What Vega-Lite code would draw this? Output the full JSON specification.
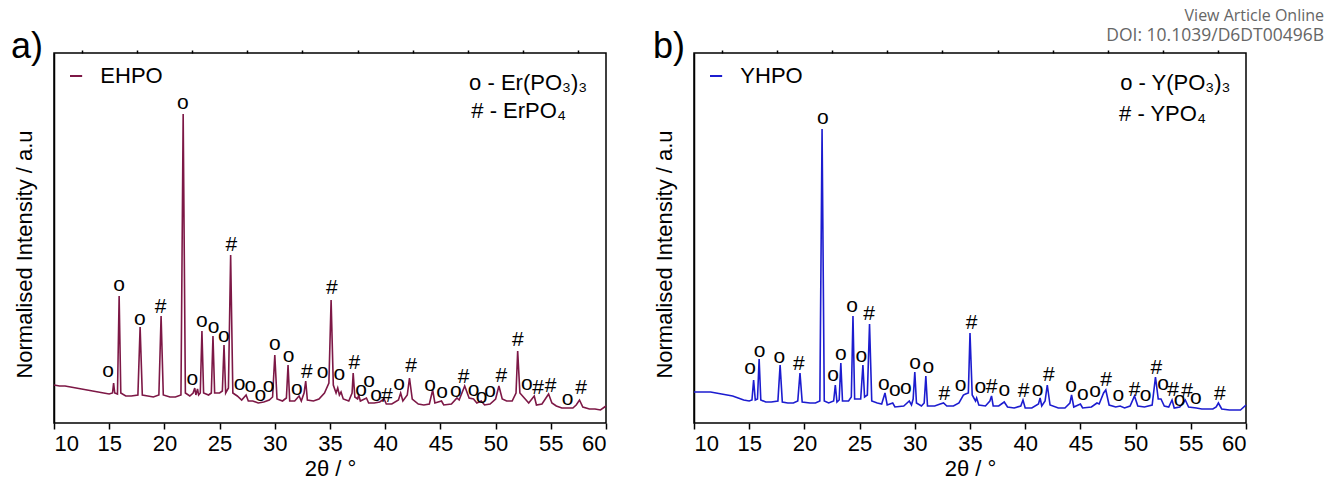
{
"$schema": "https://vega.github.io/schema/vega-lite/v6.json",
"padding": {"left": 10, "top": 7, "right": 0, "bottom": 0},
"bounds": "flush",
"spacing": 88,
"config": {
  "font": "Liberation Sans",
  "view": {"stroke": "black", "strokeWidth": 1.5},
  "axis": {"domain": false, "grid": false, "tickColor": "black", "tickWidth": 1.5, "labelColor": "black", "titleColor": "black", "labelFont": "Liberation Sans", "titleFont": "Liberation Sans", "titleFontWeight": "normal", "labelFontSize": 22, "titleFontSize": 22},
  "text": {"font": "Liberation Sans", "color": "black"}
},
"datasets": {
  "a_line": [
    {"two_theta":10.0,"intensity":38},{"two_theta":10.5,"intensity":37},{"two_theta":11.0,"intensity":37},{"two_theta":11.5,"intensity":36},{"two_theta":12.0,"intensity":35},{"two_theta":12.5,"intensity":34},{"two_theta":13.0,"intensity":33},{"two_theta":13.5,"intensity":32},{"two_theta":14.0,"intensity":31},{"two_theta":14.5,"intensity":30},{"two_theta":15.0,"intensity":29},{"two_theta":15.3,"intensity":30},{"two_theta":15.4,"intensity":40},{"two_theta":15.5,"intensity":30},{"two_theta":15.75,"intensity":29},{"two_theta":15.9,"intensity":127},{"two_theta":16.05,"intensity":30},{"two_theta":16.5,"intensity":27},{"two_theta":17.0,"intensity":27},{"two_theta":17.6,"intensity":28},{"two_theta":17.8,"intensity":96},{"two_theta":18.0,"intensity":28},{"two_theta":18.5,"intensity":27},{"two_theta":19.0,"intensity":26},{"two_theta":19.5,"intensity":28},{"two_theta":19.7,"intensity":107},{"two_theta":19.9,"intensity":28},{"two_theta":20.5,"intensity":26},{"two_theta":21.0,"intensity":26},{"two_theta":21.5,"intensity":28},{"two_theta":21.7,"intensity":309},{"two_theta":21.9,"intensity":30},{"two_theta":22.3,"intensity":27},{"two_theta":22.6,"intensity":30},{"two_theta":22.75,"intensity":35},{"two_theta":22.85,"intensity":28},{"two_theta":23.0,"intensity":34},{"two_theta":23.1,"intensity":28},{"two_theta":23.25,"intensity":30},{"two_theta":23.4,"intensity":92},{"two_theta":23.55,"intensity":30},{"two_theta":24.0,"intensity":28},{"two_theta":24.25,"intensity":30},{"two_theta":24.4,"intensity":87},{"two_theta":24.55,"intensity":30},{"two_theta":25.0,"intensity":30},{"two_theta":25.25,"intensity":32},{"two_theta":25.4,"intensity":78},{"two_theta":25.55,"intensity":30},{"two_theta":25.8,"intensity":35},{"two_theta":26.0,"intensity":168},{"two_theta":26.2,"intensity":30},{"two_theta":26.6,"intensity":27},{"two_theta":27.0,"intensity":23},{"two_theta":27.4,"intensity":28},{"two_theta":27.6,"intensity":22},{"two_theta":28.0,"intensity":22},{"two_theta":28.5,"intensity":20},{"two_theta":29.0,"intensity":21},{"two_theta":29.5,"intensity":23},{"two_theta":29.8,"intensity":26},{"two_theta":30.0,"intensity":68},{"two_theta":30.2,"intensity":24},{"two_theta":30.7,"intensity":22},{"two_theta":31.05,"intensity":25},{"two_theta":31.2,"intensity":58},{"two_theta":31.35,"intensity":22},{"two_theta":31.8,"intensity":22},{"two_theta":32.2,"intensity":27},{"two_theta":32.4,"intensity":22},{"two_theta":32.65,"intensity":30},{"two_theta":32.8,"intensity":42},{"two_theta":32.95,"intensity":23},{"two_theta":33.5,"intensity":22},{"two_theta":34.0,"intensity":24},{"two_theta":34.5,"intensity":30},{"two_theta":34.9,"intensity":40},{"two_theta":35.1,"intensity":123},{"two_theta":35.3,"intensity":38},{"two_theta":35.55,"intensity":30},{"two_theta":35.7,"intensity":35},{"two_theta":35.85,"intensity":28},{"two_theta":36.0,"intensity":31},{"two_theta":36.2,"intensity":24},{"two_theta":36.7,"intensity":22},{"two_theta":37.0,"intensity":30},{"two_theta":37.1,"intensity":50},{"two_theta":37.25,"intensity":26},{"two_theta":37.5,"intensity":24},{"two_theta":37.6,"intensity":28},{"two_theta":37.75,"intensity":22},{"two_theta":38.3,"intensity":25},{"two_theta":38.5,"intensity":20},{"two_theta":39.0,"intensity":20},{"two_theta":39.5,"intensity":21},{"two_theta":39.9,"intensity":24},{"two_theta":40.1,"intensity":19},{"two_theta":40.6,"intensity":19},{"two_theta":41.2,"intensity":23},{"two_theta":41.4,"intensity":30},{"two_theta":41.6,"intensity":22},{"two_theta":42.0,"intensity":28},{"two_theta":42.2,"intensity":45},{"two_theta":42.45,"intensity":24},{"two_theta":43.0,"intensity":19},{"two_theta":43.5,"intensity":18},{"two_theta":44.0,"intensity":19},{"two_theta":44.3,"intensity":33},{"two_theta":44.5,"intensity":20},{"two_theta":45.1,"intensity":22},{"two_theta":45.3,"intensity":18},{"two_theta":46.0,"intensity":19},{"two_theta":46.5,"intensity":25},{"two_theta":46.7,"intensity":23},{"two_theta":47.2,"intensity":37},{"two_theta":47.6,"intensity":25},{"two_theta":48.0,"intensity":24},{"two_theta":48.3,"intensity":20},{"two_theta":48.7,"intensity":22},{"two_theta":49.0,"intensity":18},{"two_theta":49.5,"intensity":19},{"two_theta":50.0,"intensity":24},{"two_theta":50.3,"intensity":37},{"two_theta":50.6,"intensity":24},{"two_theta":51.0,"intensity":22},{"two_theta":51.5,"intensity":22},{"two_theta":51.85,"intensity":30},{"two_theta":52.0,"intensity":72},{"two_theta":52.2,"intensity":30},{"two_theta":52.6,"intensity":25},{"two_theta":53.0,"intensity":20},{"two_theta":53.5,"intensity":27},{"two_theta":53.7,"intensity":18},{"two_theta":54.2,"intensity":19},{"two_theta":54.8,"intensity":29},{"two_theta":55.1,"intensity":20},{"two_theta":55.5,"intensity":17},{"two_theta":56.0,"intensity":15},{"two_theta":56.5,"intensity":15},{"two_theta":57.0,"intensity":15},{"two_theta":57.3,"intensity":18},{"two_theta":57.6,"intensity":23},{"two_theta":57.9,"intensity":16},{"two_theta":58.5,"intensity":14},{"two_theta":59.0,"intensity":14},{"two_theta":59.5,"intensity":13},{"two_theta":60.0,"intensity":17}
  ],
  "b_line": [
    {"two_theta":10.0,"intensity":31},{"two_theta":10.5,"intensity":31},{"two_theta":11.0,"intensity":31},{"two_theta":11.5,"intensity":31},{"two_theta":12.0,"intensity":30},{"two_theta":12.5,"intensity":29},{"two_theta":13.0,"intensity":28},{"two_theta":13.5,"intensity":27},{"two_theta":14.0,"intensity":25},{"two_theta":14.5,"intensity":23},{"two_theta":15.0,"intensity":22},{"two_theta":15.25,"intensity":23},{"two_theta":15.4,"intensity":43},{"two_theta":15.55,"intensity":23},{"two_theta":15.75,"intensity":24},{"two_theta":15.9,"intensity":64},{"two_theta":16.05,"intensity":23},{"two_theta":16.5,"intensity":21},{"two_theta":17.0,"intensity":21},{"two_theta":17.6,"intensity":22},{"two_theta":17.8,"intensity":58},{"two_theta":18.0,"intensity":21},{"two_theta":18.5,"intensity":20},{"two_theta":19.0,"intensity":20},{"two_theta":19.4,"intensity":22},{"two_theta":19.6,"intensity":50},{"two_theta":19.8,"intensity":21},{"two_theta":20.5,"intensity":20},{"two_theta":21.0,"intensity":20},{"two_theta":21.4,"intensity":22},{"two_theta":21.6,"intensity":294},{"two_theta":21.8,"intensity":22},{"two_theta":22.2,"intensity":20},{"two_theta":22.65,"intensity":22},{"two_theta":22.8,"intensity":38},{"two_theta":22.95,"intensity":21},{"two_theta":23.15,"intensity":23},{"two_theta":23.3,"intensity":60},{"two_theta":23.45,"intensity":22},{"two_theta":24.0,"intensity":22},{"two_theta":24.25,"intensity":26},{"two_theta":24.4,"intensity":107},{"two_theta":24.55,"intensity":24},{"two_theta":25.1,"intensity":24},{"two_theta":25.3,"intensity":58},{"two_theta":25.45,"intensity":26},{"two_theta":25.7,"intensity":28},{"two_theta":25.9,"intensity":99},{"two_theta":26.1,"intensity":22},{"two_theta":26.6,"intensity":20},{"two_theta":27.0,"intensity":19},{"two_theta":27.3,"intensity":30},{"two_theta":27.5,"intensity":18},{"two_theta":28.0,"intensity":20},{"two_theta":28.2,"intensity":16},{"two_theta":29.0,"intensity":17},{"two_theta":29.5,"intensity":22},{"two_theta":29.7,"intensity":18},{"two_theta":29.85,"intensity":24},{"two_theta":30.0,"intensity":51},{"two_theta":30.15,"intensity":20},{"two_theta":30.6,"intensity":17},{"two_theta":30.85,"intensity":20},{"two_theta":31.0,"intensity":47},{"two_theta":31.15,"intensity":17},{"two_theta":31.8,"intensity":17},{"two_theta":32.3,"intensity":19},{"two_theta":32.6,"intensity":20},{"two_theta":32.9,"intensity":17},{"two_theta":33.5,"intensity":17},{"two_theta":34.0,"intensity":20},{"two_theta":34.4,"intensity":28},{"two_theta":34.6,"intensity":29},{"two_theta":34.85,"intensity":30},{"two_theta":35.0,"intensity":90},{"two_theta":35.2,"intensity":28},{"two_theta":35.5,"intensity":22},{"two_theta":35.6,"intensity":25},{"two_theta":35.8,"intensity":18},{"two_theta":36.4,"intensity":17},{"two_theta":36.8,"intensity":22},{"two_theta":36.95,"intensity":27},{"two_theta":37.1,"intensity":17},{"two_theta":37.6,"intensity":17},{"two_theta":38.1,"intensity":21},{"two_theta":38.4,"intensity":16},{"two_theta":39.0,"intensity":15},{"two_theta":39.6,"intensity":17},{"two_theta":39.8,"intensity":23},{"two_theta":40.0,"intensity":15},{"two_theta":40.6,"intensity":15},{"two_theta":41.2,"intensity":19},{"two_theta":41.35,"intensity":25},{"two_theta":41.5,"intensity":17},{"two_theta":41.8,"intensity":22},{"two_theta":42.0,"intensity":38},{"two_theta":42.25,"intensity":18},{"two_theta":43.0,"intensity":15},{"two_theta":43.6,"intensity":15},{"two_theta":44.05,"intensity":20},{"two_theta":44.2,"intensity":28},{"two_theta":44.4,"intensity":16},{"two_theta":45.0,"intensity":19},{"two_theta":45.2,"intensity":15},{"two_theta":46.0,"intensity":16},{"two_theta":46.5,"intensity":20},{"two_theta":46.7,"intensity":19},{"two_theta":47.1,"intensity":30},{"two_theta":47.3,"intensity":33},{"two_theta":47.6,"intensity":18},{"two_theta":48.2,"intensity":16},{"two_theta":48.6,"intensity":17},{"two_theta":49.0,"intensity":15},{"two_theta":49.5,"intensity":17},{"two_theta":49.9,"intensity":27},{"two_theta":50.2,"intensity":17},{"two_theta":50.8,"intensity":16},{"two_theta":51.5,"intensity":18},{"two_theta":51.8,"intensity":46},{"two_theta":52.05,"intensity":24},{"two_theta":52.3,"intensity":24},{"two_theta":52.6,"intensity":17},{"two_theta":53.0,"intensity":16},{"two_theta":53.3,"intensity":23},{"two_theta":53.5,"intensity":15},{"two_theta":54.0,"intensity":16},{"two_theta":54.5,"intensity":23},{"two_theta":54.8,"intensity":16},{"two_theta":55.5,"intensity":15},{"two_theta":56.0,"intensity":14},{"two_theta":56.5,"intensity":14},{"two_theta":57.0,"intensity":14},{"two_theta":57.3,"intensity":16},{"two_theta":57.5,"intensity":20},{"two_theta":57.8,"intensity":14},{"two_theta":58.5,"intensity":13},{"two_theta":59.0,"intensity":13},{"two_theta":59.5,"intensity":13},{"two_theta":60.0,"intensity":18}
  ],
  "a_marks": [
    {"two_theta":14.9,"intensity":52,"label":"o"},{"two_theta":15.9,"intensity":138,"label":"o"},{"two_theta":17.77,"intensity":104,"label":"o"},{"two_theta":19.66,"intensity":116,"label":"#"},{"two_theta":21.68,"intensity":320,"label":"o"},{"two_theta":22.53,"intensity":44,"label":"o"},{"two_theta":23.39,"intensity":102,"label":"o"},{"two_theta":24.46,"intensity":96,"label":"o"},{"two_theta":25.39,"intensity":87,"label":"o"},{"two_theta":26.07,"intensity":178,"label":"#"},{"two_theta":26.82,"intensity":39,"label":"o"},{"two_theta":27.79,"intensity":37,"label":"o"},{"two_theta":28.68,"intensity":28,"label":"o"},{"two_theta":29.43,"intensity":37,"label":"o"},{"two_theta":30.0,"intensity":79,"label":"o"},{"two_theta":31.26,"intensity":67,"label":"o"},{"two_theta":32.0,"intensity":34,"label":"o"},{"two_theta":32.9,"intensity":51,"label":"#"},{"two_theta":34.34,"intensity":51,"label":"o"},{"two_theta":35.16,"intensity":135,"label":"#"},{"two_theta":35.84,"intensity":49,"label":"o"},{"two_theta":37.2,"intensity":60,"label":"#"},{"two_theta":37.81,"intensity":33,"label":"o"},{"two_theta":38.53,"intensity":42,"label":"o"},{"two_theta":39.17,"intensity":28,"label":"o"},{"two_theta":40.14,"intensity":27,"label":"#"},{"two_theta":41.25,"intensity":39,"label":"o"},{"two_theta":42.35,"intensity":57,"label":"#"},{"two_theta":44.07,"intensity":38,"label":"o"},{"two_theta":45.15,"intensity":31,"label":"o"},{"two_theta":46.4,"intensity":32,"label":"o"},{"two_theta":47.1,"intensity":46,"label":"#"},{"two_theta":48.0,"intensity":33,"label":"o"},{"two_theta":48.73,"intensity":26,"label":"o"},{"two_theta":49.5,"intensity":32,"label":"o"},{"two_theta":50.52,"intensity":47,"label":"#"},{"two_theta":52.02,"intensity":83,"label":"#"},{"two_theta":52.84,"intensity":39,"label":"o"},{"two_theta":53.84,"intensity":35,"label":"#"},{"two_theta":54.99,"intensity":37,"label":"#"},{"two_theta":56.53,"intensity":24,"label":"o"},{"two_theta":57.74,"intensity":35,"label":"#"}
  ],
  "b_marks": [
    {"two_theta":15.07,"intensity":55,"label":"o"},{"two_theta":15.94,"intensity":72,"label":"o"},{"two_theta":17.72,"intensity":66,"label":"o"},{"two_theta":19.5,"intensity":59,"label":"#"},{"two_theta":21.68,"intensity":305,"label":"o"},{"two_theta":22.59,"intensity":48,"label":"o"},{"two_theta":23.3,"intensity":69,"label":"o"},{"two_theta":24.33,"intensity":117,"label":"o"},{"two_theta":25.16,"intensity":67,"label":"o"},{"two_theta":25.87,"intensity":109,"label":"#"},{"two_theta":27.2,"intensity":39,"label":"o"},{"two_theta":28.2,"intensity":33,"label":"o"},{"two_theta":29.2,"intensity":35,"label":"o"},{"two_theta":30.03,"intensity":60,"label":"o"},{"two_theta":31.22,"intensity":56,"label":"o"},{"two_theta":32.68,"intensity":29,"label":"#"},{"two_theta":34.15,"intensity":38,"label":"o"},{"two_theta":35.14,"intensity":100,"label":"#"},{"two_theta":35.93,"intensity":36,"label":"o"},{"two_theta":36.96,"intensity":36,"label":"#"},{"two_theta":38.1,"intensity":33,"label":"o"},{"two_theta":39.85,"intensity":32,"label":"#"},{"two_theta":41.12,"intensity":33,"label":"o"},{"two_theta":42.15,"intensity":48,"label":"#"},{"two_theta":44.16,"intensity":37,"label":"o"},{"two_theta":45.23,"intensity":29,"label":"o"},{"two_theta":46.34,"intensity":32,"label":"o"},{"two_theta":47.33,"intensity":43,"label":"#"},{"two_theta":48.44,"intensity":28,"label":"o"},{"two_theta":49.9,"intensity":33,"label":"#"},{"two_theta":50.9,"intensity":28,"label":"o"},{"two_theta":51.88,"intensity":55,"label":"#"},{"two_theta":52.48,"intensity":39,"label":"o"},{"two_theta":53.39,"intensity":33,"label":"#"},{"two_theta":53.98,"intensity":23,"label":"o"},{"two_theta":54.66,"intensity":32,"label":"#"},{"two_theta":55.45,"intensity":25,"label":"o"},{"two_theta":57.62,"intensity":29,"label":"#"}
  ]
},
"hconcat": [
  {
    "width": 552, "height": 370,
    "resolve": {"axis": {"x": "independent"}},
    "layer": [
      {
        "data": {"name": "a_line"},
        "mark": {"type": "line", "color": "#7d1846", "strokeWidth": 1.6},
        "encoding": {
          "x": {"field": "two_theta", "type": "quantitative", "scale": {"domain": [10, 60], "nice": false, "zero": false},
                "axis": {"values": [10,15,20,25,30,35,40,45,50,55,60], "title": "2θ / °", "tickSize": 6, "labelPadding": 4, "titlePadding": 4}},
          "y": {"field": "intensity", "type": "quantitative", "scale": {"domain": [0, 370], "nice": false, "zero": false},
                "axis": {"title": "Normalised Intensity / a.u", "labels": false, "ticks": false, "domain": true, "domainColor": "black", "domainWidth": 1.5, "titlePadding": 18, "titleY": 201}}
        }
      },
      {
        "data": {"name": "a_marks"},
        "mark": {"type": "text", "fontSize": 21, "baseline": "middle", "align": "center", "clip": false},
        "encoding": {
          "x": {"field": "two_theta", "type": "quantitative", "axis": {"values": [12.5,17.5,22.5,27.5,32.5,37.5,42.5,47.5,52.5,57.5], "labels": false, "title": null, "tickSize": 3}},
          "y": {"field": "intensity", "type": "quantitative"},
          "text": {"field": "label"}
        }
      },
      {
        "data": {"values": [{"x_start": 11.45, "x_end": 12.55, "intensity": 347}]},
        "mark": {"type": "rule", "color": "#7d1846", "strokeWidth": 2},
        "encoding": {
          "x": {"field": "x_start", "type": "quantitative", "axis": null},
          "x2": {"field": "x_end"},
          "y": {"field": "intensity", "type": "quantitative"}
        }
      },
      {
        "data": {"values": [
          {"two_theta": 14.2, "intensity": 347, "label": "EHPO"},
          {"two_theta": 47.6, "intensity": 340, "label": "o - Er(PO₃)₃"},
          {"two_theta": 47.8, "intensity": 312, "label": "# - ErPO₄"}
        ]},
        "mark": {"type": "text", "fontSize": 22, "align": "left", "baseline": "middle", "clip": false},
        "encoding": {
          "x": {"field": "two_theta", "type": "quantitative", "axis": null},
          "y": {"field": "intensity", "type": "quantitative"},
          "text": {"field": "label"}
        }
      },
      {
        "data": {"values": [{"two_theta": 6.1, "intensity": 365, "label": "a)"}]},
        "mark": {"type": "text", "fontSize": 36, "align": "left", "baseline": "alphabetic", "clip": false},
        "encoding": {
          "x": {"field": "two_theta", "type": "quantitative", "axis": null},
          "y": {"field": "intensity", "type": "quantitative"},
          "text": {"field": "label"}
        }
      }
    ]
  },
  {
    "width": 552, "height": 370,
    "resolve": {"axis": {"x": "independent"}},
    "layer": [
      {
        "data": {"name": "b_line"},
        "mark": {"type": "line", "color": "#1c1ccf", "strokeWidth": 1.6},
        "encoding": {
          "x": {"field": "two_theta", "type": "quantitative", "scale": {"domain": [10, 60], "nice": false, "zero": false},
                "axis": {"values": [10,15,20,25,30,35,40,45,50,55,60], "title": "2θ / °", "tickSize": 6, "labelPadding": 4, "titlePadding": 4}},
          "y": {"field": "intensity", "type": "quantitative", "scale": {"domain": [0, 370], "nice": false, "zero": false},
                "axis": {"title": "Normalised Intensity / a.u", "labels": false, "ticks": false, "domain": true, "domainColor": "black", "domainWidth": 1.5, "titlePadding": 18, "titleY": 201}}
        }
      },
      {
        "data": {"name": "b_marks"},
        "mark": {"type": "text", "fontSize": 21, "baseline": "middle", "align": "center", "clip": false},
        "encoding": {
          "x": {"field": "two_theta", "type": "quantitative", "axis": {"values": [12.5,17.5,22.5,27.5,32.5,37.5,42.5,47.5,52.5,57.5], "labels": false, "title": null, "tickSize": 3}},
          "y": {"field": "intensity", "type": "quantitative"},
          "text": {"field": "label"}
        }
      },
      {
        "data": {"values": [{"x_start": 11.45, "x_end": 12.55, "intensity": 347}]},
        "mark": {"type": "rule", "color": "#1c1ccf", "strokeWidth": 2},
        "encoding": {
          "x": {"field": "x_start", "type": "quantitative", "axis": null},
          "x2": {"field": "x_end"},
          "y": {"field": "intensity", "type": "quantitative"}
        }
      },
      {
        "data": {"values": [
          {"two_theta": 14.2, "intensity": 347, "label": "YHPO"},
          {"two_theta": 48.6, "intensity": 340, "label": "o - Y(PO₃)₃"},
          {"two_theta": 48.5, "intensity": 309, "label": "# - YPO₄"}
        ]},
        "mark": {"type": "text", "fontSize": 22, "align": "left", "baseline": "middle", "clip": false},
        "encoding": {
          "x": {"field": "two_theta", "type": "quantitative", "axis": null},
          "y": {"field": "intensity", "type": "quantitative"},
          "text": {"field": "label"}
        }
      },
      {
        "data": {"values": [{"two_theta": 6.29, "intensity": 365, "label": "b)"}]},
        "mark": {"type": "text", "fontSize": 36, "align": "left", "baseline": "alphabetic", "clip": false},
        "encoding": {
          "x": {"field": "two_theta", "type": "quantitative", "axis": null},
          "y": {"field": "intensity", "type": "quantitative"},
          "text": {"field": "label"}
        }
      },
      {
        "data": {"values": [
          {"two_theta": 67.07, "intensity": 407, "label": "View Article Online", "size": 16},
          {"two_theta": 67.07, "intensity": 387, "label": "DOI: 10.1039/D6DT00496B", "size": 17.5}
        ]},
        "mark": {"type": "text", "align": "right", "baseline": "middle", "font": "Open Sans", "color": "#666666", "clip": false},
        "encoding": {
          "x": {"field": "two_theta", "type": "quantitative", "axis": null},
          "y": {"field": "intensity", "type": "quantitative"},
          "text": {"field": "label"},
          "size": {"field": "size", "type": "quantitative", "scale": null, "legend": null}
        }
      }
    ]
  }
]
}
